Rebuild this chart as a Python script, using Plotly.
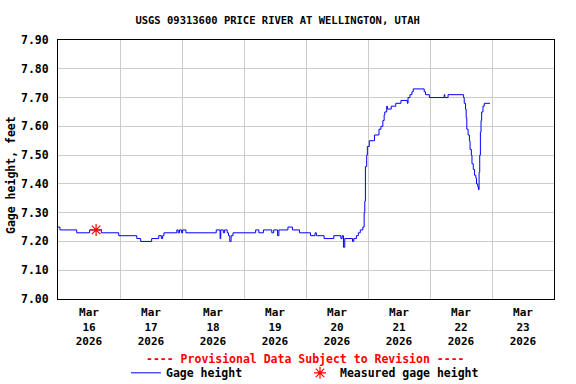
import plotly.graph_objects as go

# ---- data ----
times = [
    "2026-03-16 00:00", "2026-03-16 00:45", "2026-03-16 07:15", "2026-03-16 12:15", "2026-03-16 16:45",
    "2026-03-16 23:30", "2026-03-17 06:30", "2026-03-17 08:00", "2026-03-17 12:15", "2026-03-17 15:00",
    "2026-03-17 16:00", "2026-03-17 16:30", "2026-03-17 17:00", "2026-03-17 22:00", "2026-03-17 22:30",
    "2026-03-17 23:00", "2026-03-17 23:45", "2026-03-18 00:15", "2026-03-18 01:30",
    "2026-03-18 13:15", "2026-03-18 14:45", "2026-03-18 15:00", "2026-03-18 16:00", "2026-03-18 16:30",
    "2026-03-18 17:30", "2026-03-18 18:00", "2026-03-18 18:30", "2026-03-18 19:00", "2026-03-18 19:45",
    "2026-03-19 04:30", "2026-03-19 05:45", "2026-03-19 07:30", "2026-03-19 10:45", "2026-03-19 11:30",
    "2026-03-19 13:00", "2026-03-19 13:30", "2026-03-19 17:00", "2026-03-19 18:45", "2026-03-19 21:30",
    "2026-03-20 01:45", "2026-03-20 03:30", "2026-03-20 04:00", "2026-03-20 07:00", "2026-03-20 10:45",
    "2026-03-20 13:30", "2026-03-20 14:00", "2026-03-20 14:30", "2026-03-20 15:00", "2026-03-20 18:00",
    "2026-03-20 18:30", "2026-03-20 19:30", "2026-03-20 20:15", "2026-03-20 21:00", "2026-03-20 22:00",
    "2026-03-20 22:30", "2026-03-20 22:45", "2026-03-20 23:00", "2026-03-20 23:30", "2026-03-20 23:45",
    "2026-03-21 00:30", "2026-03-21 02:30", "2026-03-21 04:15", "2026-03-21 05:00", "2026-03-21 05:45",
    "2026-03-21 06:15", "2026-03-21 06:30", "2026-03-21 07:15", "2026-03-21 07:30", "2026-03-21 09:00",
    "2026-03-21 10:45", "2026-03-21 12:45", "2026-03-21 15:15", "2026-03-21 15:30", "2026-03-21 16:15",
    "2026-03-21 17:00", "2026-03-21 17:30", "2026-03-21 21:45", "2026-03-21 22:15", "2026-03-21 23:45",
    "2026-03-22 05:30", "2026-03-22 05:45", "2026-03-22 07:00", "2026-03-22 13:00", "2026-03-22 13:15",
    "2026-03-22 13:45", "2026-03-22 14:00", "2026-03-22 14:15", "2026-03-22 14:45", "2026-03-22 15:15",
    "2026-03-22 15:30", "2026-03-22 16:00", "2026-03-22 16:15", "2026-03-22 16:45", "2026-03-22 17:15",
    "2026-03-22 17:45", "2026-03-22 18:00", "2026-03-22 18:30", "2026-03-22 18:45", "2026-03-22 19:00",
    "2026-03-22 19:15", "2026-03-22 19:30", "2026-03-22 19:45", "2026-03-22 20:00", "2026-03-22 20:30",
    "2026-03-22 21:00", "2026-03-22 23:15",
]
heights = [
    7.25, 7.24, 7.23, 7.24, 7.23,
    7.22, 7.21, 7.20, 7.21, 7.22,
    7.21, 7.22, 7.23, 7.24, 7.23,
    7.24, 7.23, 7.24, 7.23,
    7.24, 7.21, 7.24, 7.23, 7.24,
    7.23, 7.22, 7.20, 7.22, 7.23,
    7.24, 7.23, 7.24, 7.23, 7.24,
    7.22, 7.24, 7.25, 7.24, 7.23,
    7.22, 7.23, 7.22, 7.21, 7.22,
    7.21, 7.22, 7.18, 7.21, 7.20,
    7.21, 7.22, 7.23, 7.24, 7.25,
    7.30, 7.34, 7.46, 7.50, 7.53,
    7.55, 7.57, 7.59, 7.60, 7.62,
    7.64, 7.65, 7.67, 7.66, 7.67,
    7.68, 7.69, 7.68, 7.70, 7.71,
    7.72, 7.73, 7.72, 7.71, 7.70,
    7.71, 7.70, 7.71, 7.70, 7.68,
    7.66, 7.63, 7.59, 7.57, 7.55,
    7.52, 7.50, 7.47, 7.45, 7.43,
    7.42, 7.40, 7.39, 7.38, 7.44,
    7.50, 7.58, 7.62, 7.65, 7.67,
    7.68, 7.68,
]
meas_times = ["2026-03-16 14:45"]
meas_heights = [7.24]

tick_dates = ["2026-03-%02d 12:00" % d for d in range(16, 24)]
tick_labels = ["Mar<br>%d<br>2026" % d for d in range(16, 24)]
grid_dates = ["2026-03-%02d 00:00" % d for d in range(16, 25)]
x_range = ["2026-03-16 00:00", "2026-03-24 00:00"]
y_range = [7.0, 7.9]

FONT = "DejaVu Sans Mono"
LEGEND_FONT = dict(family=FONT, size=11.5, color="black", weight="bold")

fig = go.Figure()
fig.add_trace(go.Scatter(
    x=times, y=heights, mode="lines", name="Gage height", legend="legend",
    line=dict(color="#0000ff", width=1, shape="hv"),
))
fig.add_trace(go.Scatter(
    x=meas_times, y=meas_heights, mode="markers", name="Measured gage height", legend="legend2",
    marker=dict(symbol="asterisk-open", size=10, color="#ff0000",
                line=dict(color="#ff0000", width=1.2)),
))

fig.update_layout(
    width=576, height=384,
    margin=dict(l=58, r=22, t=40, b=85, autoexpand=False),
    paper_bgcolor="white", plot_bgcolor="white",
    font=dict(family=FONT, size=11, color="black", weight="bold"),
    title=dict(text="USGS 09313600 PRICE RIVER AT WELLINGTON, UTAH",
               x=0.482, xanchor="center", xref="container",
               y=1 - 20.5 / 384, yanchor="middle", yref="container",
               font=dict(family=FONT, size=10.5, color="black", weight="bold")),
    showlegend=True,
    legend=dict(orientation="h", x=0.137, xanchor="left", y=-0.285, yanchor="middle",
                font=LEGEND_FONT, bgcolor="rgba(0,0,0,0)", borderwidth=0),
    legend2=dict(orientation="h", x=(300 - 58) / 496, xanchor="left", y=-0.285, yanchor="middle",
                 font=LEGEND_FONT, bgcolor="rgba(0,0,0,0)", borderwidth=0),
)
fig.update_xaxes(
    type="date", range=x_range,
    tickmode="array", tickvals=tick_dates, ticktext=tick_labels,
    showgrid=False, ticks="", zeroline=False,
    minor=dict(tickmode="array", tickvals=grid_dates, showgrid=True,
               gridcolor="#cccccc", gridwidth=1, ticks=""),
    showline=True, mirror=True, linecolor="black", linewidth=1,
    ticklabelstandoff=3,
    tickfont=dict(family=FONT, size=11, color="black", weight="bold"),
)
fig.update_yaxes(
    range=y_range, tick0=7.0, dtick=0.1, tickformat=".2f",
    showgrid=True, gridcolor="#cccccc", gridwidth=1, ticks="", zeroline=False,
    showline=True, mirror=True, linecolor="black", linewidth=1,
    ticklabelstandoff=6,
    tickfont=dict(family=FONT, size=11.5, color="black", weight="bold"),
)
fig.add_annotation(text="Gage height, feet", textangle=-90,
                   xref="paper", yref="paper", x=(11 - 58) / 496, y=(299 - 175) / 259,
                   xanchor="center", yanchor="middle", showarrow=False,
                   font=dict(family=FONT, size=11.5, color="black", weight="bold"))
fig.add_annotation(text="---- Provisional Data Subject to Revision ----",
                   xref="paper", yref="paper", x=(305.5 - 58) / 496, y=(299 - 359) / 259,
                   xanchor="center", yanchor="middle", showarrow=False,
                   font=dict(family=FONT, size=11.5, color="#ff0000", weight="bold"))

fig.write_html("out.html", config={"displayModeBar": False},
               post_script="document.body.style.margin='0';")
